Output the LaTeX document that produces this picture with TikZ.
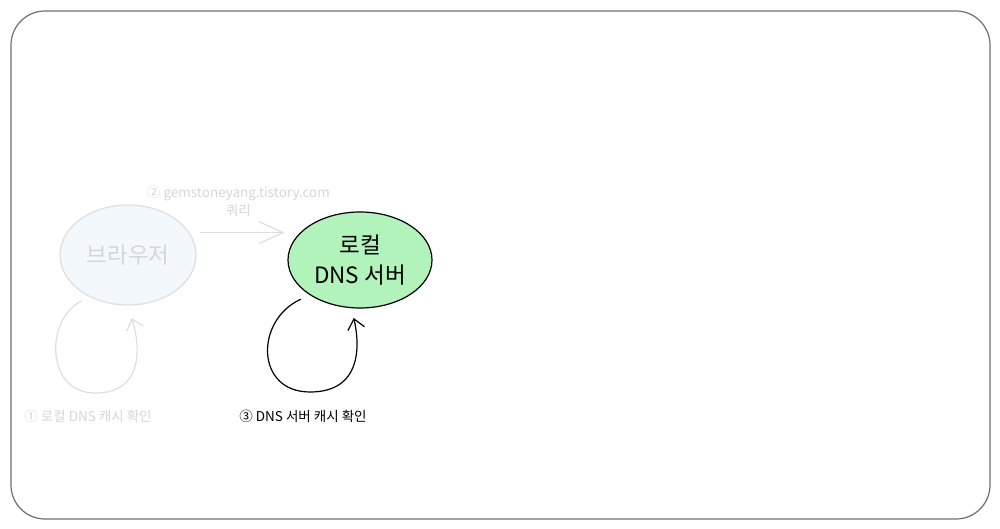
\documentclass[tikz,border=0pt]{standalone}
\usepackage{fontspec}
\setmainfont{Noto Sans CJK KR}
\usetikzlibrary{arrows.meta,shapes.geometric}
\definecolor{dnsgreen}{HTML}{B2F2BB}
\definecolor{fadeline}{HTML}{DEDEDE}
\definecolor{fadetext}{HTML}{D6D6D6}
\definecolor{fadefill}{HTML}{F3F8FD}
\definecolor{framegray}{HTML}{6E6E6E}
\tikzset{
  bubble/.style={ellipse, draw, line width=1.2pt, inner sep=0pt,
    minimum width=144pt, minimum height=96pt, align=center,
    font=\fontsize{22.5}{30}\selectfont},
  faded/.style={draw=fadeline, text=fadetext},
  caption/.style={font=\fontsize{13.5}{18}\selectfont, inner sep=0pt, align=center},
  sketchtip/.style={-{Straight Barb[length=10pt,width=17pt,line width=1.2pt]}},
  loopline/.style={sketchtip, line width=1.2pt, line cap=round}
}
\begin{document}
\begin{tikzpicture}[x=1pt,y=-1pt]
  \useasboundingbox (0,0) rectangle (1000,529);
  \draw[framegray, line width=1.2pt, rounded corners=34pt] (11,11) rectangle (990,519);

  \node[bubble, faded, fill=fadefill, minimum width=136pt, minimum height=100pt]
    (browser) at (128,255) {브라우저};
  \node[bubble, fill=dnsgreen] (localdns) at (360,260) {로컬\\DNS 서버};

  % query arrow
  \draw[line width=1.2pt, draw=fadeline, shorten <=10pt, shorten >=3pt,
      -{Straight Barb[length=24pt,width=22pt,line width=1.2pt]}]
    (browser.20) -- (browser.20 -| localdns.west)
    node[midway, above=15pt, caption, text=fadetext] (query)
      {② gemstoneyang.tistory.com\\쿼리};

  % cache loops
  \draw[loopline, draw=fadeline, shorten <=9pt, shorten >=13pt]
    (browser.228) .. controls (45,318) and (45,393) .. (95,393)
    .. controls (145,393) and (140,345) .. (browser.south);
  \draw[loopline, shorten <=10pt, shorten >=10pt]
    (localdns.215) .. controls (255,320) and (255,392) .. (310,392)
    .. controls (362,392) and (360,345) .. (localdns.260);

  \node[caption, text=fadetext] (browsercache) at (88,416) {① 로컬 DNS 캐시 확인};
  \node[caption] (dnscache) at (303,416) {③ DNS 서버 캐시 확인};
\end{tikzpicture}
\end{document}
